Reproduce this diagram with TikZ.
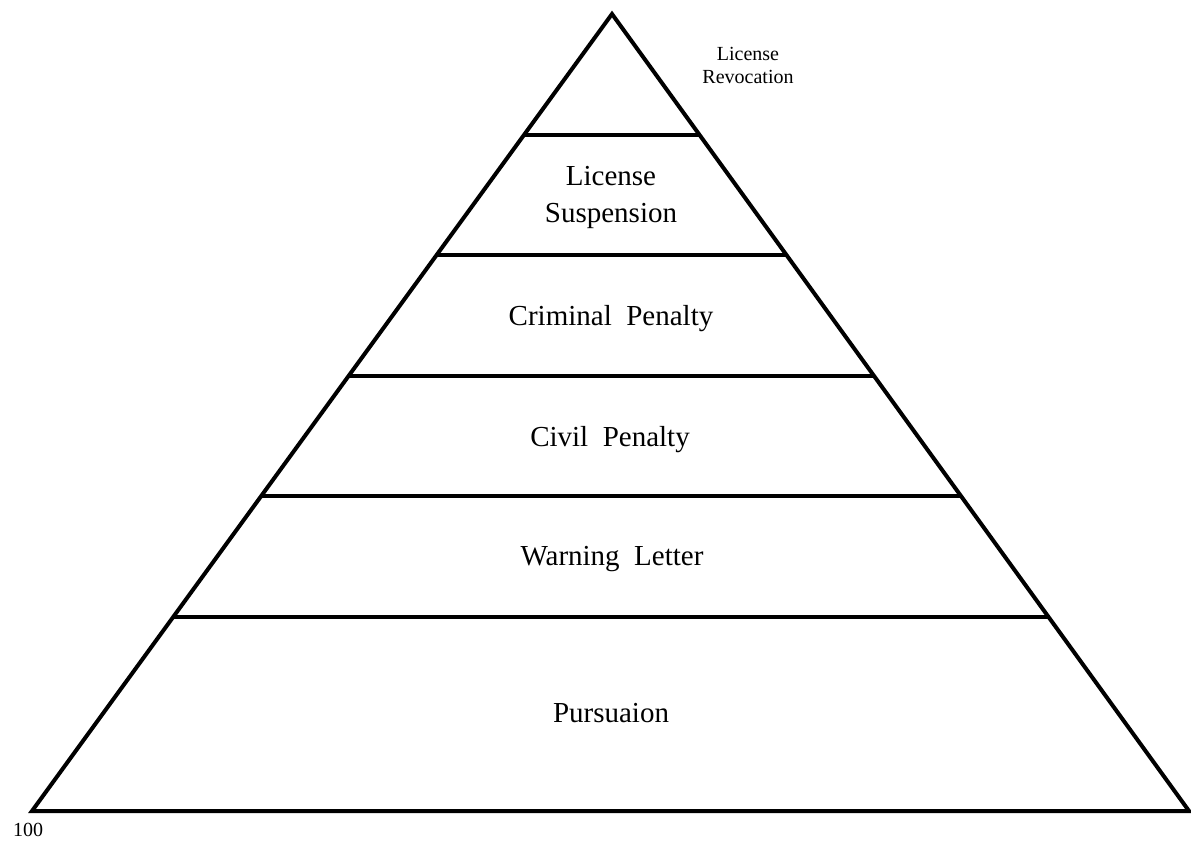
\documentclass[tikz,border=0pt]{standalone}
\usepackage{fontspec}
\setmainfont{Liberation Serif}
\usetikzlibrary{calc}
\begin{document}
\begin{tikzpicture} [x=1pt, y=-1pt]
	\tikzset{tier/.style={line width=4pt}}
	\tikzset{level/.style={font=\fontsize{29}{37}\selectfont, align=center}}
	\tikzset{small/.style={font=\fontsize{20}{23}\selectfont, align=center}}
	\useasboundingbox (0,0) rectangle (1191,842);

	\coordinate (apex)	at (612,14);
	\coordinate (bl)	at (32,811);
	\coordinate (br)	at (1189,811);
	\draw[tier] (apex) -- (bl) -- (br) -- cycle;

	% tier separators
	\foreach \t [count=\i] in {0.1518,0.3024,0.4542,0.6048,0.7566}
		\draw[tier] ($(apex)!\t!(bl)$) coordinate (l\i) -- ($(apex)!\t!(br)$) coordinate (r\i);

	\node[small]				(revoc)	at (748,65)		{License\\Revocation};
	\node[level]				(susp)	at (611,197)	{License\\Suspension};
	\node[level, anchor=base]	(crim)	at (611,325)	{Criminal \ Penalty};
	\node[level, anchor=base]	(civil)	at (610,446)	{Civil \ Penalty};
	\node[level, anchor=base]	(warn)	at (612,565)	{Warning \ Letter};
	\node[level, anchor=base]	(purs)	at (611,722)	{Pursuaion};
	\node[small, anchor=base]	(pg)	at (28,836)		{100};
\end{tikzpicture}
\end{document}
